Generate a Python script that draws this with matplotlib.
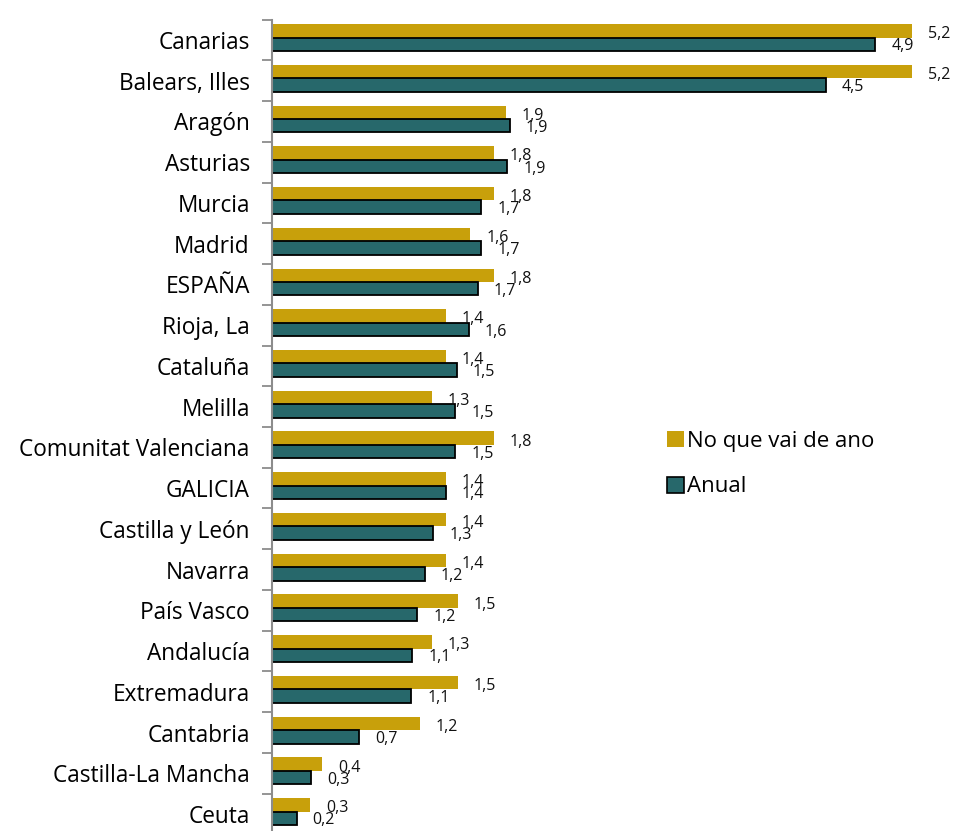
import matplotlib
matplotlib.use("Agg")
import matplotlib.pyplot as plt
from matplotlib.patches import Patch
import numpy as np

plt.rcParams['font.family'] = ['Open Sans', 'DejaVu Sans']

categories = ["Canarias", "Balears, Illes", "Aragón", "Asturias", "Murcia", "Madrid",
              "ESPAÑA", "Rioja, La", "Cataluña", "Melilla", "Comunitat Valenciana",
              "GALICIA", "Castilla y León", "Navarra", "País Vasco", "Andalucía",
              "Extremadura", "Cantabria", "Castilla-La Mancha", "Ceuta"]
ytd = [5.20, 5.20, 1.90, 1.80, 1.80, 1.61, 1.80, 1.41, 1.41, 1.30, 1.80,
       1.41, 1.41, 1.41, 1.51, 1.30, 1.51, 1.20, 0.41, 0.31]
annual = [4.90, 4.50, 1.93, 1.91, 1.70, 1.70, 1.67, 1.60, 1.50, 1.49, 1.49,
          1.41, 1.31, 1.24, 1.18, 1.14, 1.13, 0.71, 0.32, 0.20]
series_names = ["No que vai de ano", "Anual"]

gold = "#C8A00B"
teal = "#27686B"

fig = plt.figure(figsize=(9.54, 8.31), dpi=100)
W, H = 954, 831
ax = fig.add_axes([272 / W, (H - 834.4) / H, (950 - 272) / W, (834.4 - 19.6) / H])

n = len(categories)
y = np.arange(n)
h = 0.33
ax.barh(y - h / 2 - 0.06, ytd, height=h, color=gold, edgecolor="none", zorder=2)
ax.barh(y + h / 2 - 0.06, annual, height=h, color=teal, edgecolor="black", linewidth=1.3, zorder=2)

ax.set_xlim(0, 678 / 123.1)
ax.set_ylim(n - 0.5, -0.5)

def fmt(v):
    return f"{v:.1f}".replace(".", ",")

for i in range(n):
    ax.annotate(fmt(ytd[i]), (ytd[i], y[i] - h / 2 - 0.06), xytext=(11.5, -2.5),
                textcoords="offset points", ha="left", va="center", fontsize=11.5, color="#111111")
    ax.annotate(fmt(annual[i]), (annual[i], y[i] + h / 2 - 0.06), xytext=(11.5, -1.5),
                textcoords="offset points", ha="left", va="center", fontsize=11.5, color="#111111")

# y axis styling: ticks at category boundaries
ax.set_yticks(y)
ax.set_yticklabels(categories, fontsize=16.3)
ax.tick_params(axis="y", which="major", length=0, pad=16)
ax.set_yticks(np.arange(-0.5, n, 1.0), minor=True)
ax.tick_params(axis="y", which="minor", length=7, width=1.3, color="#8c8c8c", direction="out")
ax.set_xticks([])
for s in ["top", "right", "bottom"]:
    ax.spines[s].set_visible(False)
ax.spines["left"].set_color("#8c8c8c")
ax.spines["left"].set_linewidth(1.5)

handles = [Patch(facecolor=gold, edgecolor="none"),
           Patch(facecolor=teal, edgecolor="black", linewidth=1.2)]
fig.legend(handles, series_names, loc="upper left", bbox_to_anchor=(647 / W, 1 - 411 / H),
           frameon=False, fontsize=16, handlelength=0.75, handleheight=0.75,
           handletextpad=0.15, labelspacing=1.1)

fig.savefig("out.png", dpi=100)
